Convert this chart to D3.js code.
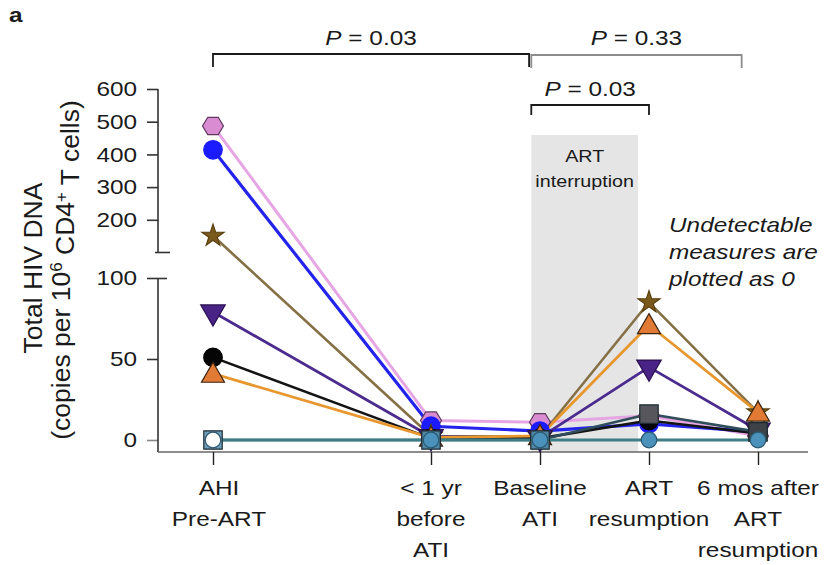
<!DOCTYPE html>
<html><head><meta charset="utf-8">
<script src="https://cdn.jsdelivr.net/npm/d3@7"></script>
<style>
body{margin:0;background:#fff}
svg{display:block}
text{font-family:"Liberation Sans",Arial,Helvetica,sans-serif;fill:#1a1a1a}
</style>
</head><body>
<svg id="chart" width="834" height="565"></svg>
<script>
// Time points (two-line / three-line labels) and their slot on the x axis
const categories = [["AHI","Pre-ART"],["< 1 yr","before","ATI"],["Baseline","ATI"],["ART","resumption"],["6 mos after","ART","resumption"]];
const categorySlots = [0, 2, 3, 4, 5];

// Broken y axis: upper and lower segments
const upperTicks = [200, 300, 400, 500, 600];
const lowerTicks = [0, 50, 100];

// Total HIV DNA per participant (copies per 10^6 CD4+ T cells); undetectable = 0
const pinkHexagon    = [487, 12, 11, 15, 2.5];
const blueCircle     = [414, 8.5, 5.5, 10, 5];
const brownStar      = [151, 2.5, 2, 85, 17];
const purpleTriangle = [79, 2, 1.5, 45, 6];
const blackCircle    = [51, 1, 1, 12, 4];
const orangeTriangle = [41, 1.5, 2.5, 71, 17];
const slateSquare    = [0, 0, 0, 16, 5];
const tealCircle     = [0, 0, 0, 0, 0];

// Statistical comparisons: bracket span in x-slot units and P value
const pLabels  = ["0.03", "0.33", "0.03"];
const pFrom    = [0, 2.92, 2.92];
const pTo      = [2.9, 4.85, 4.0];

const SX = 1.16; // horizontal glyph stretch of the figure font

const series = [
  {v: pinkHexagon,    line: "#e6a6e3", fill: "#d98cd2", stroke: "#5e3a5c", shape: "hexagon", lw: 3},
  {v: blueCircle,     line: "#2323ec", fill: "#1b1bff", stroke: "#1b1bff", shape: "circle", lw: 3.2},
  {v: brownStar,      line: "#857046", fill: "#7a5a1c", stroke: "#5a4010", shape: "star", lw: 2.6},
  {v: purpleTriangle, line: "#4b2b8e", fill: "#4a2386", stroke: "#2a1050", shape: "triangleDown", lw: 2.8},
  {v: blackCircle,    line: "#141414", fill: "#050505", stroke: "#000", shape: "circle", lw: 2.6},
  {v: orangeTriangle, line: "#e8972f", fill: "#e07a34", stroke: "#3a2410", shape: "triangle", lw: 2.8},
  {v: slateSquare,    line: "#2f4d5a", fills: ["#6f9fba", "#4f87a5", "#4f87a5", "#56565c", "#3c4248"], stroke: "#1e2a30", shape: "square", lw: 2.6},
  {v: tealCircle,     line: "#3e7e86", fills: ["#ffffff", "#4a92bb", "#4a92bb", "#4a92bb", "#4a92bb"], stroke: "#2c5a72", shape: "dot", lw: 3}
];

const svg = d3.select("#chart");

const x = d3.scaleLinear().domain([0, 5]).range([213, 758]);
const yLow = d3.scaleLinear().domain([0, 100]).range([440, 278]);
const yHigh = d3.scaleLinear().domain([100, 600]).range([252.5, 89]);
const y = v => v <= 100 ? yLow(v) : yHigh(v);
const axisX = 158, baseY = 452;

function stext(g, px, py, str, opts = {}) {
  const t = g.append("text")
    .attr("transform", `translate(${px},${py}) scale(${SX},1)`)
    .attr("text-anchor", opts.anchor || "middle")
    .style("font-size", (opts.size || 21) + "px");
  if (opts.italic) t.style("font-style", "italic");
  if (opts.weight) t.style("font-weight", opts.weight);
  t.text(str);
  return t;
}

// ART interruption shading
svg.append("rect")
  .attr("x", x(2.92)).attr("y", 135)
  .attr("width", x(3.9) - x(2.92)).attr("height", baseY - 135)
  .attr("fill", "#e5e5e5");
stext(svg, (x(2.92) + x(3.9)) / 2, 162, "ART", {size: 17});
stext(svg, (x(2.92) + x(3.9)) / 2, 187, "interruption", {size: 17});

// y axis, upper segment
const gUp = svg.append("g").attr("transform", `translate(${axisX},0)`)
  .call(d3.axisLeft(yHigh).tickValues(upperTicks).tickSize(11));
// y axis, lower segment
const gLow = svg.append("g").attr("transform", `translate(${axisX},0)`)
  .call(d3.axisLeft(yLow).tickValues(lowerTicks).tickSize(11));
[gUp, gLow].forEach(g => {
  g.select(".domain").remove();
  g.selectAll(".tick line").attr("stroke", "#333").attr("stroke-width", 1.6);
  g.selectAll(".tick text")
    .attr("x", -21 / SX).attr("transform", `scale(${SX},1)`)
    .style("font-size", "21px").attr("fill", "#1a1a1a");
});
gLow.selectAll(".tick").filter(d => d === 100).select("line").attr("x2", 9).attr("x1", -11);
gLow.selectAll(".tick").filter(d => d === 0).select("line").attr("stroke", "#888");

const axisColor = "#333";
svg.append("line").attr("x1", axisX).attr("x2", axisX).attr("y1", yHigh(600)).attr("y2", yHigh(100))
  .attr("stroke", axisColor).attr("stroke-width", 1.6);
svg.append("line").attr("x1", axisX - 3).attr("x2", axisX + 12).attr("y1", yHigh(100)).attr("y2", yHigh(100))
  .attr("stroke", axisColor).attr("stroke-width", 1.6);
svg.append("line").attr("x1", axisX).attr("x2", axisX).attr("y1", yLow(100)).attr("y2", baseY)
  .attr("stroke", axisColor).attr("stroke-width", 1.6);

// x axis
svg.append("line").attr("x1", axisX).attr("x2", 808).attr("y1", baseY).attr("y2", baseY)
  .attr("stroke", "#666").attr("stroke-width", 1.6);
const gX = svg.append("g").attr("transform", `translate(0,${baseY})`)
  .call(d3.axisBottom(x).tickValues(categorySlots).tickSize(13).tickFormat(""));
gX.select(".domain").remove();
gX.selectAll(".tick line").attr("stroke", "#222").attr("stroke-width", 1.4);

categories.forEach((lines, i) => {
  const shift = i === 0 ? 6 : 0;
  lines.forEach((ln, j) => stext(svg, x(categorySlots[i]) + shift, 495 + j * 31, ln));
});

// y axis title
svg.append("text")
  .attr("transform", "translate(42,268) rotate(-90)")
  .attr("text-anchor", "middle").style("font-size", "26.5px").text("Total HIV DNA");
const t2 = svg.append("text")
  .attr("transform", "translate(70,270) rotate(-90)")
  .attr("text-anchor", "middle").style("font-size", "26.5px");
t2.append("tspan").text("(copies per 10");
t2.append("tspan").attr("dy", "-0.45em").style("font-size", "17px").text("6");
t2.append("tspan").attr("dy", "0.45em").text(" CD4");
t2.append("tspan").attr("dy", "-0.45em").style("font-size", "17px").text("+");
t2.append("tspan").attr("dy", "0.45em").text(" T cells)");

// Lines
const line = d3.line().x((d, i) => x(categorySlots[i])).y(d => y(d));
series.forEach(s => {
  svg.append("path").datum(s.v).attr("d", line)
    .attr("fill", "none").attr("stroke", s.line).attr("stroke-width", s.lw)
    .attr("stroke-linejoin", "round");
});

// Markers
function hexPath(r) {
  const pts = d3.range(6).map(k => [r * Math.cos(k * Math.PI / 3), r * Math.sin(k * Math.PI / 3) * 0.95]);
  return "M" + pts.map(p => p.join(",")).join("L") + "Z";
}
const shapes = {
  circle: d3.symbol(d3.symbolCircle, 270)(),
  dot: d3.symbol(d3.symbolCircle, 190)(),
  square: d3.symbol(d3.symbolSquare, 340)(),
  star: d3.symbol(d3.symbolStar, 150)(),
  triangle: d3.symbol(d3.symbolTriangle, 230)(),
  triangleDown: d3.symbol(d3.symbolTriangle, 260)(),
  hexagon: hexPath(10.5)
};
series.forEach(s => {
  s.v.forEach((v, i) => {
    const px = x(categorySlots[i]), py = y(v);
    const rot = s.shape === "triangleDown" ? " rotate(180)" : "";
    svg.append("path").attr("d", shapes[s.shape])
      .attr("transform", `translate(${px},${py + (s.shape === "triangle" ? 2 : 0)})${rot}`)
      .attr("fill", s.fills ? s.fills[i] : s.fill)
      .attr("stroke", s.stroke).attr("stroke-width", 1.2);
  });
});

// Significance brackets
const brackets = [
  {y: 54, drop: 13, color: "#1a1a1a", ty: 45},
  {y: 55, drop: 13, color: "#8c8c8c", ty: 45},
  {y: 105, drop: 10, color: "#1a1a1a", ty: 96}
];
pLabels.forEach((p, i) => {
  const b = brackets[i], x0 = x(pFrom[i]), x1 = x(pTo[i]);
  svg.append("path")
    .attr("d", `M${x0},${b.y + b.drop}V${b.y}H${x1}V${b.y + b.drop}`)
    .attr("fill", "none").attr("stroke", b.color).attr("stroke-width", 1.8);
  const t = svg.append("text")
    .attr("transform", `translate(${(x0 + x1) / 2},${b.ty}) scale(${SX},1)`)
    .attr("text-anchor", "middle").style("font-size", "21px");
  t.append("tspan").style("font-style", "italic").text("P");
  t.append("tspan").text(" = " + p);
});

// Annotation
["Undetectable", "measures are", "plotted as 0"].forEach((s, j) =>
  stext(svg, 669, 232 + j * 27, s, {anchor: "start", italic: true}));

// Panel letter
stext(svg, 9, 22, "a", {anchor: "start", size: 21, weight: "bold"});
</script>
</body></html>
